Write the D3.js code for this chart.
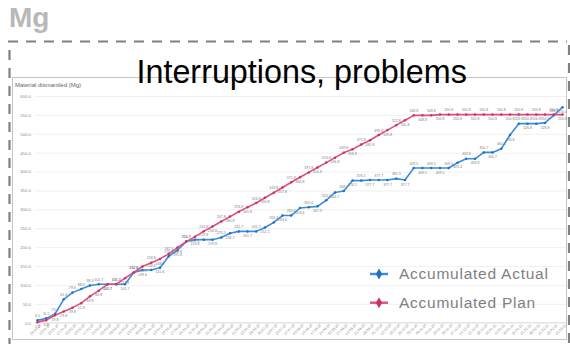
<!DOCTYPE html>
<html><head><meta charset="utf-8">
<script src="https://cdn.jsdelivr.net/npm/d3@7"></script>
<style>
html,body{margin:0;padding:0;background:#fff;}
svg{display:block;font-family:"Liberation Sans",Arial,sans-serif;}
</style></head><body>
<svg id="c" width="570" height="344"></svg>
<script>
const unitLabel = "Mg";
const pageTitle = "Interruptions, problems";
const axisTitle = "Material dismantled (Mg)";
const seriesNames = ["Accumulated Actual", "Accumulated Plan"];
const categories = [
 "06.01.20","13.01.20","20.01.20","27.01.20","03.02.20","10.02.20","17.02.20","24.02.20",
 "02.03.20","09.03.20","16.03.20","23.03.20","30.03.20","06.04.20","13.04.20","20.04.20",
 "27.04.20","04.05.20","11.05.20","18.05.20","25.05.20","01.06.20","08.06.20","15.06.20",
 "22.06.20","29.06.20","06.07.20","13.07.20","20.07.20","27.07.20","03.08.20","10.08.20",
 "17.08.20","24.08.20","31.08.20","07.09.20","14.09.20","21.09.20","28.09.20","05.10.20",
 "12.10.20","19.10.20","26.10.20","02.11.20","09.11.20","16.11.20","23.11.20","30.11.20",
 "07.12.20","14.12.20","21.12.20","28.12.20","04.01.21","11.01.21","18.01.21","25.01.21",
 "01.02.21","08.02.21","15.02.21","22.02.21","01.03.21"
];
const actual = [
 6.5, 11.5, 23.1, 61.8, 79.6, 88.9, 98.3, 101.7, 101.7, 101.7,
 101.7, 132.6, 139.6, 139.6, 145.6, 175.8, 191.8, 214.7, 219.8, 219.8,
 219.8, 225.5, 236.7, 241.7, 241.7, 241.7, 252.1, 265.4, 283.6, 283.6,
 303.6, 305.6, 307.9, 324.1, 344.7, 348.7, 376.1, 376.1, 377.7, 377.7,
 377.7, 381.3, 377.7, 409.5, 409.5, 409.5, 409.5, 409.5, 423.3, 433.8,
 433.8, 450.7, 450.7, 460.5, 496.8, 526.8, 526.8, 526.8, 528.8, 548.8,
 570.4
];
const plan = [
 1.5, 6.8, 19.8, 29.8, 39.8, 51.8, 69.8, 84.8, 101.7, 101.7,
 117.8, 132.8, 148.8, 158.8, 168.8, 182.3, 198.8, 214.7, 227.8, 241.8,
 254.8, 267.8, 280.8, 293.8, 305.8, 316.8, 330.8, 343.8, 357.8, 371.8,
 384.8, 397.8, 410.8, 423.8, 436.8, 449.8, 458.8, 471.8, 482.8, 496.8,
 509.8, 522.8, 535.8, 548.8, 548.8, 548.8, 550.8, 550.8, 550.8, 550.8,
 550.8, 550.8, 550.8, 550.8, 550.8, 550.8, 550.8, 550.8, 550.8, 550.8,
 550.8
];
const yTicks = [0, 50, 100, 150, 200, 250, 300, 350, 400, 450, 500, 550, 600];

const svg = d3.select("#c");
const BLUE = "#3a8ddc", BLUE_D = "#1f72c6";
const PINK = "#dc4f80", PINK_D = "#c93462";

// outer dashed box
svg.append("line").attr("x1", 8).attr("x2", 567).attr("y1", 41.5).attr("y2", 41.5)
  .attr("stroke", "#808080").attr("stroke-width", 2.2).attr("stroke-dasharray", "10,8");
svg.append("line").attr("x1", 9.5).attr("x2", 9.5).attr("y1", 50).attr("y2", 344)
  .attr("stroke", "#808080").attr("stroke-width", 2.2).attr("stroke-dasharray", "10,8");
svg.append("line").attr("x1", 569).attr("x2", 569).attr("y1", 45).attr("y2", 344)
  .attr("stroke", "#808080").attr("stroke-width", 2.2).attr("stroke-dasharray", "10,8");

svg.append("text").attr("x", 9).attr("y", 26.5).text(unitLabel)
  .attr("font-size", 28).attr("font-weight", "bold").attr("fill", "#b8b8b8");

// chart frame
svg.append("rect").attr("x", 12.5).attr("y", 77.5).attr("width", 554).attr("height", 262)
  .attr("fill", "#fff").attr("stroke", "#c4c4c4").attr("stroke-width", 1);

svg.append("text").attr("x", 15).attr("y", 86.5).text(axisTitle)
  .attr("font-size", 6).attr("fill", "#666");

const x = d3.scalePoint().domain(categories).range([33.1, 566.9]).padding(0.5);
const y = d3.scaleLinear().domain([0, 600]).range([322.7, 96]);

// grid
const grid = svg.append("g").attr("transform", "translate(35,0)")
  .call(d3.axisLeft(y).tickValues(yTicks).tickSize(-531).tickFormat(""));
grid.select(".domain").remove();
grid.selectAll("line").attr("stroke", "#ececec").attr("stroke-width", 0.8);

// y axis labels
const ya = svg.append("g").attr("transform", "translate(33,0)")
  .call(d3.axisLeft(y).tickValues(yTicks).tickSize(0).tickPadding(2).tickFormat(d3.format(".1f")));
ya.select(".domain").remove();
ya.selectAll("text").attr("font-size", 4.3).attr("fill", "#8a8a8a").attr("font-family", "Liberation Sans, Arial, sans-serif");

// x axis
const xa = svg.append("g").attr("transform", "translate(0,322.7)")
  .call(d3.axisBottom(x).tickSize(0));
xa.select(".domain").attr("stroke", "#d9d9d9").attr("stroke-width", 0.8)
  .attr("d", "M35,0H566");
xa.selectAll("text").attr("x", 0).attr("y", 0).attr("dy", 0)
  .attr("text-anchor", "end").attr("transform", "translate(3.5,2.8) rotate(-45)")
  .attr("font-size", 3.5).attr("fill", "#8a8a8a").attr("font-family", "Liberation Sans, Arial, sans-serif");

function drawSeries(vals, color, dark) {
  const pts = vals.map((v, i) => [x(categories[i]), y(v), v, i]);
  svg.append("path").datum(pts)
    .attr("d", d3.line().x(d => d[0]).y(d => d[1]))
    .attr("fill", "none").attr("stroke", color).attr("stroke-width", 1.6)
    .attr("stroke-linejoin", "round");
  svg.append("g").selectAll("circle").data(pts).join("circle")
    .attr("cx", d => d[0]).attr("cy", d => d[1]).attr("r", 1.25).attr("fill", dark);
  return pts;
}
const pA = drawSeries(actual, BLUE, BLUE_D);
const pP = drawSeries(plan, PINK, PINK_D);

function drawLabels(pts, aboveFn) {
  svg.append("g").selectAll("text").data(pts).join("text")
    .attr("x", d => d[0])
    .attr("y", d => aboveFn(d[3]) ? d[1] - 3.4 : d[1] + 5.6)
    .attr("text-anchor", "middle")
    .attr("font-size", 3.5).attr("fill", "#808080")
    .text(d => d3.format(".1f")(d[2]));
}
drawLabels(pA, i => i < 8 ? true : i % 2 === 1);
drawLabels(pP, i => i < 8 ? false : i % 2 === 1);

// legend
const legend = [[seriesNames[0], BLUE, BLUE_D, 274], [seriesNames[1], PINK, PINK_D, 302.7]];
legend.forEach(([name, c, cd, ly]) => {
  svg.append("line").attr("x1", 370).attr("x2", 388).attr("y1", ly).attr("y2", ly)
    .attr("stroke", c).attr("stroke-width", 2.4);
  svg.append("path").attr("d", d3.symbol(d3.symbolDiamond, 34)())
    .attr("transform", `translate(379,${ly})`).attr("fill", cd);
  svg.append("text").attr("x", 399).attr("y", ly + 5.4).text(name)
    .attr("font-size", 15.5).attr("letter-spacing", 0.75).attr("fill", "#7f7f7f");
});

// title
svg.append("text").attr("x", 136.5).attr("y", 83.3).text(pageTitle)
  .attr("font-size", 32.3).attr("fill", "#000");
</script>
</body></html>
